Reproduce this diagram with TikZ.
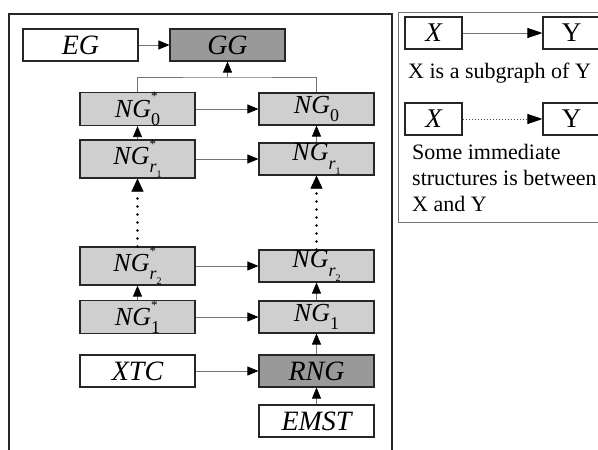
\documentclass[tikz,border=0pt]{standalone}
\usepackage{fontspec}
\setmainfont{Liberation Serif}
\usetikzlibrary{arrows.meta}

% NG with a subscript and an optional star above it
\newcommand{\ngraph}[2]{NG\makebox[0pt][l]{\raisebox{0.62em}{\fontsize{13}{13}\selectfont\upshape #2}}\raisebox{-0.32em}{\fontsize{18}{18}\selectfont\upshape #1}}
% subscript r with its own small index
\newcommand{\rindex}[1]{\itshape r\raisebox{-0.28em}{\fontsize{10}{10}\selectfont\upshape #1}}

\begin{document}
\begin{tikzpicture}[x=1pt,y=-1pt,
  box/.style={draw=black!85, line width=1.1pt, minimum width=115pt, minimum height=32pt,
    inner sep=0pt, font=\fontsize{28}{28}\selectfont\itshape},
  whitebox/.style={box, fill=white},
  lightbox/.style={box, fill=gray!38, font=\fontsize{26}{26}\selectfont\itshape},
  darkbox/.style={box, fill=gray!80},
  keybox/.style={draw=black!85, line width=1.1pt, minimum width=57pt, minimum height=32pt,
    inner sep=0pt, font=\fontsize{27}{27}\selectfont},
  plain/.style={draw=black!55, line width=0.8pt},
  link/.style={plain, -{Triangle[length=11pt,width=9pt,color=black]}},
  dotlink/.style={draw=black, line width=2.6pt, dash pattern=on 0pt off 8pt, line cap=round,
    -{Triangle[length=13pt,width=12pt,color=black,line width=0.5pt]}},
  keylink/.style={plain, -{Triangle[length=15pt,width=10pt,color=black]}},
  keydots/.style={draw=black!70, line width=0.8pt, dash pattern=on 1.5pt off 1.5pt,
    -{Triangle[length=15pt,width=10pt,color=black]}},
  keytext/.style={anchor=base west, inner sep=0pt, font=\fontsize{22}{22}\selectfont}
]
\useasboundingbox (0,0) rectangle (598,450);

% outer frames
\draw[black!85, line width=2pt] (9,460) -- (9,14) -- (392,14) -- (392,460);
\draw[black!55, line width=0.9pt] (610,12) -- (398,12) -- (398,222) -- (610,222);

% main chart
\node[whitebox] (eg)   at (80.5,45)  {EG};
\node[darkbox]  (gg)   at (227.5,45) {GG};
\node[lightbox] (ng0s) at (137.5,109) {\ngraph{0}{*}};
\node[lightbox] (ng0)  at (316.5,109) {\ngraph{0}{}};
\node[lightbox] (nr1s) at (137.5,159) {\ngraph{\rindex{1}}{*}};
\node[lightbox] (nr1)  at (316.5,159) {\ngraph{\rindex{1}}{}};
\node[lightbox] (nr2s) at (137.5,266) {\ngraph{\rindex{2}}{*}};
\node[lightbox] (nr2)  at (316.5,266) {\ngraph{\rindex{2}}{}};
\node[lightbox] (ng1s) at (137.5,317) {\ngraph{1}{*}};
\node[lightbox] (ng1)  at (316.5,317) {\ngraph{1}{}};
\node[whitebox] (xtc)  at (137.5,371) {XTC};
\node[darkbox]  (rng)  at (316.5,371) {RNG};
\node[whitebox] (emst) at (316.5,421) {EMST};

\coordinate (merge) at (227.5,77);

\draw[link] (eg) -- (gg);
\draw[plain] (ng0s.north) |- (merge) -| (ng0.north);
\draw[link] (merge) -- (gg.south);

\draw[link] (ng0s) -- (ng0);
\draw[link] (nr1s) -- (nr1);
\draw[link] (nr2s) -- (nr2);
\draw[link] (ng1s) -- (ng1);
\draw[link] (xtc) -- (rng);

\draw[link] (nr1s) -- (ng0s);
\draw[link] (nr1) -- (ng0);
\draw[dotlink] (nr2s) -- (nr1s);
\draw[dotlink] (nr2) -- (nr1);
\draw[link] (ng1s) -- (nr2s);
\draw[link] (ng1) -- (nr2);
\draw[link] (rng) -- (ng1);
\draw[link] (emst) -- (rng);

% key
\node[keybox] (kx1) at (433.5,33)  {\itshape X};
\node[keybox] (ky1) at (571.5,33)  {Y};
\node[keybox] (kx2) at (433.5,119) {\itshape X};
\node[keybox] (ky2) at (571.5,119) {Y};
\draw[keylink] (kx1) -- (ky1);
\draw[keydots] (kx2) -- (ky2);
\node[keytext] (t1) at (408,78)  {X is a subgraph of Y};
\node[keytext] (t2) at (412,159) {Some immediate};
\node[keytext] (t3) at (412,185) {structures is between};
\node[keytext] (t4) at (412,211) {X and Y};
\end{tikzpicture}
\end{document}
